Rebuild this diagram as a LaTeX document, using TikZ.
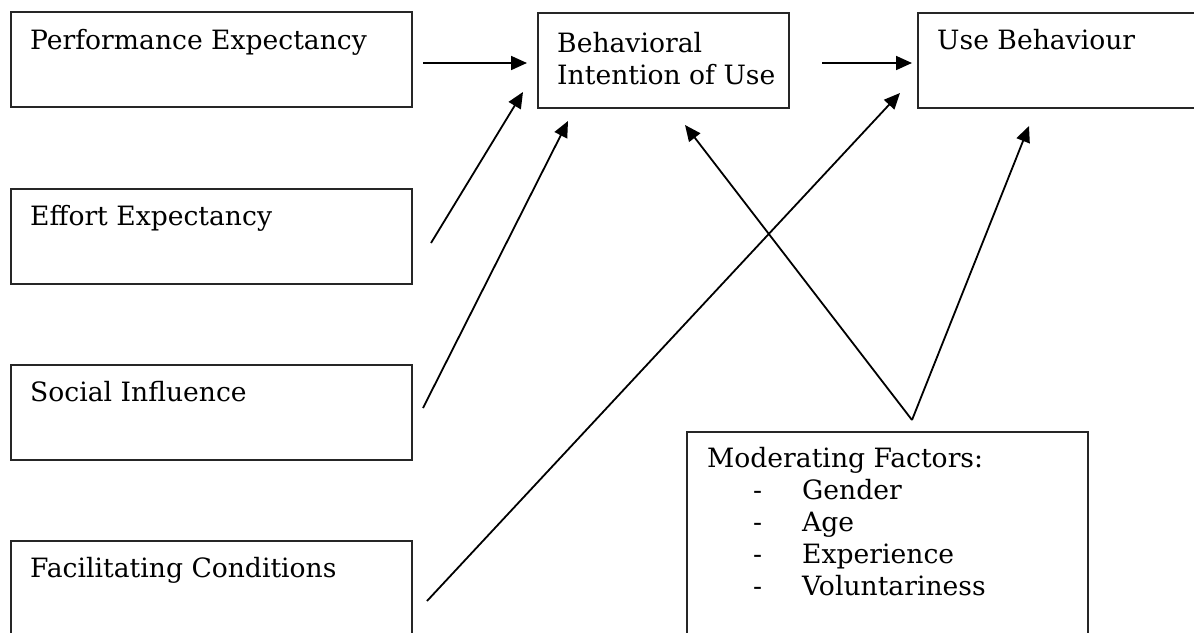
\documentclass[tikz,border=0pt]{standalone}
\usepackage{fontspec}
\setmainfont{DejaVu Serif}
\usetikzlibrary{arrows.meta}
\begin{document}
\begin{tikzpicture}[x=1pt,y=-1pt,
  box/.style={draw=black!85, line width=1.7pt, rectangle, inner sep=0pt, anchor=north west},
  txt/.style={inner sep=0pt, anchor=base west, font=\fontsize{26.6pt}{32pt}\selectfont},
  conn/.style={line width=1.8pt, -{Triangle[length=16pt,width=14pt]}}]
\useasboundingbox (0,0) rectangle (1194,632);
\begin{scope}
\clip (0,0) rectangle (1194,632);
% boxes
\node[box, minimum width=401pt, minimum height=95pt] (pe) at (10,11) {};
\node[box, minimum width=251pt, minimum height=95pt] (bi) at (537,12) {};
\node[box, minimum width=300pt, minimum height=95pt] (ub) at (917,12) {};
\node[box, minimum width=401pt, minimum height=95pt] (ee) at (10,188) {};
\node[box, minimum width=401pt, minimum height=95pt] (si) at (10,364) {};
\node[box, minimum width=401pt, minimum height=120pt] (fc) at (10,540) {};
\node[box, minimum width=401pt, minimum height=230pt] (mf) at (686,431) {};
\end{scope}
% texts
\node[txt] (pet) at (30,49) {Performance Expectancy};
\node[txt] (bit1) at (557,52) {Behavioral};
\node[txt] (bit2) at (557,84) {Intention of Use};
\node[txt] (ubt) at (937,49) {Use Behaviour};
\node[txt] (eet) at (30,225) {Effort Expectancy};
\node[txt] (sit) at (30,401) {Social Influence};
\node[txt] (fct) at (30,577) {Facilitating Conditions};
\node[txt] (mft) at (707,467) {Moderating Factors:};
\node[txt] (d1) at (753,499) {-};
\node[txt] (m1) at (802,499) {Gender};
\node[txt] (d2) at (753,531) {-};
\node[txt] (m2) at (802,531) {Age};
\node[txt] (d3) at (753,563) {-};
\node[txt] (m3) at (802,563) {Experience};
\node[txt] (d4) at (753,595) {-};
\node[txt] (m4) at (802,595) {Voluntariness};
% connector end points
\coordinate (peS) at (423,63);
\coordinate (biW) at (527,63);
\coordinate (eeS) at (431,243);
\coordinate (biA) at (523,92);
\coordinate (siS) at (423,408);
\coordinate (biB) at (568,121);
\coordinate (fcS) at (427,601);
\coordinate (ubA) at (900,93);
\coordinate (biE) at (822,63);
\coordinate (ubW) at (912,63);
\coordinate (mfN) at (912,420);
\coordinate (biC) at (685,125);
\coordinate (ubB) at (1029,126);
% connectors
\draw[conn] (peS) -- (biW);
\draw[conn] (eeS) -- (biA);
\draw[conn] (siS) -- (biB);
\draw[conn] (fcS) -- (ubA);
\draw[conn] (biE) -- (ubW);
\draw[conn] (mfN) -- (biC);
\draw[conn] (mfN) -- (ubB);
\end{tikzpicture}
\end{document}
